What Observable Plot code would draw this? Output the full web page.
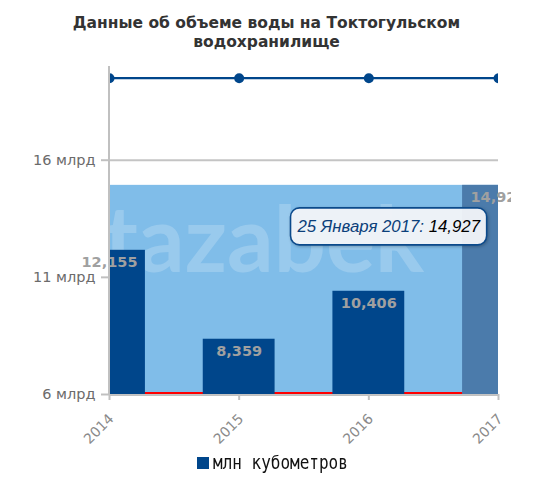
<!DOCTYPE html>
<html>
<head>
<meta charset="utf-8">
<script src="https://cdn.jsdelivr.net/npm/d3@7"></script>
<script src="https://cdn.jsdelivr.net/npm/@observablehq/plot@0.6"></script>
<style>
  html, body { margin: 0; padding: 0; background: #fff; }
  #wrap { position: relative; width: 533px; height: 500px; overflow: hidden; background: #fff; }
  #title { position: absolute; left: 0; top: 14px; width: 533px; text-align: center;
    font: bold 15.5px/18.5px "DejaVu Sans", sans-serif; color: #333; white-space: nowrap; z-index: 2; }
  #chart { position: absolute; left: 0; top: 0; }
  #legend { position: absolute; left: 197px; top: 455px; height: 20px; white-space: nowrap; }
  #legend .sw { position: absolute; left: 0; top: 2px; width: 12px; height: 12px; background: #00468b; }
  #legend .lbl { position: absolute; left: 16px; top: -5px; font: 20px "DejaVu Sans Mono", monospace; color: #111;
    transform: scaleX(0.8); transform-origin: 0 0; }
  g[aria-label^="y-axis"] text { fill: #6b6b6b; }
  g[aria-label^="y-axis"] line, g[aria-label^="y-axis"] path,
  g[aria-label^="x-axis"] line, g[aria-label^="x-axis"] path { stroke: #c0c0c0; stroke-width: 2; }
</style>
</head>
<body>
<div id="wrap">
  <div id="title">Данные об объеме воды на Токтогульском<br>водохранилище</div>
  <div id="chart"></div>
  <div id="legend"><span class="sw"></span><span class="lbl">млн кубометров</span></div>
</div>
<script>
// ---- data ----
const years = [2014, 2015, 2016, 2017];
const volumes = [12.155, 8.359, 10.406, 14.927];           // млрд м³
const capacity = [19.5, 19.5, 19.5, 19.5];                 // top line series
const yTicks = [6, 11, 16];
const yDomain = [6, 20];
const redLevel = 6;
const bandLevel = 14.927;
const tipYear = 2017;
const tipDate = "25 Января 2017: ";
const tipValue = 14.927;
const watermark = "tazabek";

const fmt = v => d3.format(".3f")(v).replace(".", ",");
const data = years.map((year, i) => ({year, value: volumes[i], cap: capacity[i]}));
const halfBar = 0.277;

const tooltip = (index, scales) => {
  const x = scales.x(tipYear), y = scales.y(tipValue);
  const g = d3.create("svg:g").attr("class", "tipbox");
  g.append("rect").attr("rx", 9).attr("ry", 9)
    .attr("fill", "rgba(247,249,252,0.93)").attr("stroke", "#0b4a8b").attr("stroke-width", 1.6)
    .style("filter", "drop-shadow(1px 1px 1.5px rgba(0,0,0,0.25))");
  const t = g.append("text")
    .attr("x", x - 18).attr("y", y + 47)
    .attr("text-anchor", "end")
    .attr("font-family", "Liberation Sans, Arial, sans-serif")
    .attr("font-style", "italic").attr("font-size", 16.8);
  t.append("tspan").attr("fill", "#0b3f7a").text(tipDate);
  t.append("tspan").attr("fill", "#000").text(fmt(tipValue));
  return g.node();
};

const plot = Plot.plot({
  width: 511,
  height: 450,
  marginLeft: 109,
  marginRight: 13,
  marginTop: 66,
  marginBottom: 56,
  style: {fontFamily: "DejaVu Sans, sans-serif", fontSize: "14.5px", background: "transparent", overflow: "hidden"},
  x: {domain: [years[0], years[years.length - 1]], ticks: years, tickFormat: () => "",
      tickSize: 6, label: null},
  y: {domain: yDomain, ticks: yTicks, tickFormat: d => `${d} млрд`, tickSize: 8, tickPadding: 6, label: null},
  marks: [
    Plot.ruleY(yTicks, {stroke: "#c4c4c4", strokeWidth: 2}),
    Plot.rectY([bandLevel], {x1: years[0], x2: years[years.length - 1], y1: yDomain[0], y2: d => d, fill: "#80bde9"}),
    Plot.text([watermark], {frameAnchor: "middle", dx: -40, dy: 12, text: d => d, fill: "white", fillOpacity: 0.2,
      fontSize: 92, fontFamily: "Lato, sans-serif", fontWeight: "bold"}),
    Plot.ruleY([redLevel], {stroke: "#ff0000", strokeWidth: 2, dy: -1.5}),
    Plot.rectY(data, {x1: d => d.year - halfBar, x2: d => d.year + halfBar, y1: yDomain[0], y2: "value",
      fill: d => d.year === tipYear ? "#4b7bab" : "#00468b", clip: true}),
    Plot.line(data, {x: "year", y: "cap", stroke: "#00468b", strokeWidth: 2.2, clip: true}),
    Plot.dot(data, {x: "year", y: "cap", r: 5, fill: "#00468b", clip: true}),
    Plot.text(data, {x: "year", y: "value", dy: 12, text: d => fmt(d.value), fill: "#a0a0a0",
      fontWeight: "bold", fontSize: 14.5, fontFamily: "DejaVu Sans, sans-serif"}),
    Plot.ruleX([years[0]], {stroke: "#c0c0c0", strokeWidth: 2, dx: -0.5}),
    Plot.ruleY([yDomain[0]], {stroke: "#c0c0c0", strokeWidth: 1.2, dy: 1}),
    // rotated x tick labels
    Plot.text(years, {x: d => d, frameAnchor: "bottom", text: d => String(d), rotate: -45,
      textAnchor: "end", lineAnchor: "middle", dx: 2, dy: 22, fill: "#8a8a8a", fontSize: 14}),
    tooltip
  ]
});

document.getElementById("chart").appendChild(plot);

// size the tooltip box to its text
const tg = plot.querySelector("g.tipbox");
if (tg) {
  const bb = tg.querySelector("text").getBBox();
  const r = tg.querySelector("rect");
  r.setAttribute("x", bb.x - 6);
  r.setAttribute("y", bb.y - 9);
  r.setAttribute("width", bb.width + 12);
  r.setAttribute("height", bb.height + 18);
}
</script>
</body>
</html>
